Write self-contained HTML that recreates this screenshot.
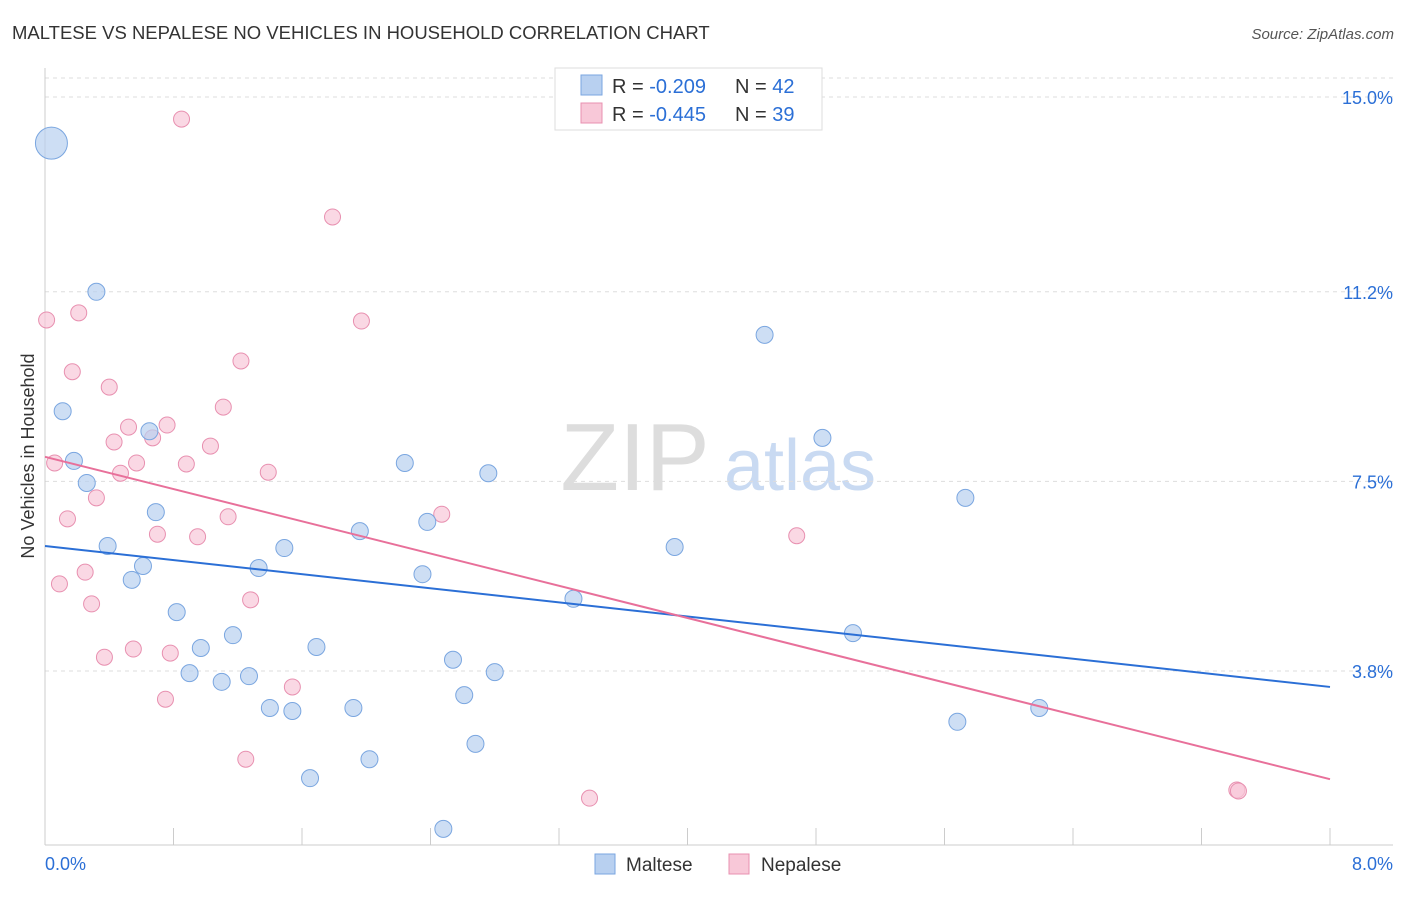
<!DOCTYPE html>
<html><head><meta charset="utf-8"><style>
body{margin:0;background:#fff;font-family:"Liberation Sans",sans-serif;}
svg text{font-family:"Liberation Sans",sans-serif;}
</style></head><body>
<svg id="chart" width="1406" height="892" xmlns="http://www.w3.org/2000/svg">
<text x="12" y="39" font-size="18.5" fill="#333">MALTESE VS NEPALESE NO VEHICLES IN HOUSEHOLD CORRELATION CHART</text>
<text x="1394" y="39" font-size="15" fill="#555" font-style="italic" text-anchor="end">Source: ZipAtlas.com</text>
<g>
<text x="635" y="490" font-size="96" fill="#ddd" text-anchor="middle" font-family="Liberation Serif">ZIP</text>
<text x="800" y="490" font-size="72" fill="#c9daf2" text-anchor="middle">atlas</text>
</g>
<g id="grid"></g>
<g id="axes"></g>
<g id="pts"></g>
<g id="lines"></g>
<text transform="translate(34,456) rotate(-90)" font-size="18" fill="#333" text-anchor="middle">No Vehicles in Household</text>
<g>
<rect x="555" y="68" width="267" height="62" fill="#fff" stroke="#ddd"/>
<rect x="581" y="75" width="21" height="20" fill="#b8d0f0" stroke="#7aa6e0"/>
<rect x="581" y="103" width="21" height="20" fill="#f8c8d8" stroke="#e890b0"/>
<text x="612" y="93" font-size="20" fill="#333">R = <tspan fill="#2b6fd6">-0.209</tspan><tspan x="735">N = </tspan><tspan fill="#2b6fd6">42</tspan></text>
<text x="612" y="121" font-size="20" fill="#333">R = <tspan fill="#2b6fd6">-0.445</tspan><tspan x="735">N = </tspan><tspan fill="#2b6fd6">39</tspan></text>
</g>
<g>
<rect x="595" y="854" width="20" height="20" fill="#b8d0f0" stroke="#7aa6e0"/>
<text x="626" y="871" font-size="19" fill="#333">Maltese</text>
<rect x="729" y="854" width="20" height="20" fill="#f8c8d8" stroke="#e890b0"/>
<text x="761" y="871" font-size="19" fill="#333">Nepalese</text>
</g>
</svg>
<script>
const yTicks=[3.8,7.5,11.2,15.0];
const yTickLabels=["3.8%","7.5%","11.2%","15.0%"];
const xTickCount=10;
const xLabels=["0.0%","8.0%"];
const malteseX=[0.04,0.32,0.11,0.18,0.26,0.65,0.39,0.69,0.61,0.54,0.82,0.97,0.90,1.10,1.17,1.27,1.33,1.40,1.49,1.54,1.69,1.65,1.92,1.96,2.02,2.24,2.38,2.35,2.54,2.61,2.68,2.76,2.80,2.48,3.29,3.92,4.48,4.84,5.03,5.73,5.68,6.19];
const malteseY=[14.10,11.20,8.87,7.90,7.47,8.48,6.24,6.90,5.85,5.58,4.95,4.25,3.76,3.59,4.50,3.70,5.81,3.08,6.20,3.02,4.27,1.71,3.08,6.53,2.08,7.86,6.71,5.69,4.02,3.33,2.38,7.66,3.78,0.72,5.21,6.22,10.36,8.35,4.54,7.18,2.81,3.08];
const nepaleseX=[0.85,1.79,0.01,0.21,1.97,1.22,0.17,0.40,1.11,0.52,0.76,0.67,0.43,1.03,0.06,0.57,0.47,0.88,1.39,0.32,0.14,1.14,0.70,0.95,2.47,4.68,0.09,0.25,0.29,1.28,0.37,0.55,0.78,1.54,0.75,1.25,3.39,7.42,7.43];
const nepaleseY=[14.57,12.66,10.65,10.79,10.63,9.85,9.64,9.34,8.95,8.56,8.60,8.35,8.27,8.19,7.86,7.86,7.66,7.84,7.68,7.18,6.77,6.81,6.47,6.42,6.86,6.44,5.50,5.73,5.11,5.19,4.07,4.23,4.15,3.49,3.25,2.08,1.32,1.48,1.46];
const malteseTrend=[6.24,3.49];
const nepaleseTrend=[7.98,1.69];
const trendX=[0,8];

const NS="http://www.w3.org/2000/svg";
const X0=45,X1=1330,XMAX=8,Y0=865.8,YS=51.25;
const sx=v=>X0+(X1-X0)*v/XMAX;
const sy=v=>Y0-v*YS;
function mk(tag,attrs,parent){const e=document.createElementNS(NS,tag);for(const k in attrs)e.setAttribute(k,attrs[k]);parent.appendChild(e);return e;}
const grid=document.getElementById('grid'),axes=document.getElementById('axes'),pts=document.getElementById('pts'),lines=document.getElementById('lines');
yTicks.forEach((t,i)=>{
  const l=mk('line',{x1:45,x2:1393,y1:sy(t),y2:sy(t),stroke:'#ddd','stroke-dasharray':'4,4'},grid);
  
  
  const tx=mk('text',{x:1393,y:sy(t)+7,'font-size':18,fill:'#2b6fd6','text-anchor':'end'},axes);
  tx.textContent=yTickLabels[i];
  
  
});
const gtop=mk('line',{x1:45,x2:1393,y1:78,y2:78,stroke:'#ddd','stroke-dasharray':'4,4'},grid);


const ya=mk('line',{x1:45,x2:45,y1:68,y2:845,stroke:'#ccc'},axes);


const xa=mk('line',{x1:45,x2:1393,y1:845,y2:845,stroke:'#ccc'},axes);


for(let i=0;i<=xTickCount;i++){
  const v=XMAX*i/xTickCount;
  const t=mk('line',{x1:sx(v),x2:sx(v),y1:828,y2:845,stroke:'#ccc'},axes);
  
  
}
const xl0=mk('text',{x:45,y:870,'font-size':18,fill:'#2b6fd6'},axes);xl0.textContent=xLabels[0];


const xl1=mk('text',{x:1393,y:870,'font-size':18,fill:'#2b6fd6','text-anchor':'end'},axes);xl1.textContent=xLabels[1];


nepaleseX.forEach((x,i)=>{
  const c=mk('circle',{cx:sx(x),cy:sy(nepaleseY[i]),r:8,fill:'#f8c8d8','fill-opacity':0.7,stroke:'#e890b0','stroke-width':1},pts);
  
  
});
malteseX.forEach((x,i)=>{
  const c=mk('circle',{cx:sx(x),cy:sy(malteseY[i]),r:i===0?16:8.5,fill:'#b8d0f0','fill-opacity':0.7,stroke:'#7aa6e0','stroke-width':1},pts);
  
  
});
const lb=mk('line',{x1:sx(trendX[0]),x2:sx(trendX[1]),y1:sy(malteseTrend[0]),y2:sy(malteseTrend[1]),stroke:'#2b6fd6','stroke-width':2},lines);


const lp=mk('line',{x1:sx(trendX[0]),x2:sx(trendX[1]),y1:sy(nepaleseTrend[0]),y2:sy(nepaleseTrend[1]),stroke:'#e8709a','stroke-width':2},lines);


</script>
</body></html>
